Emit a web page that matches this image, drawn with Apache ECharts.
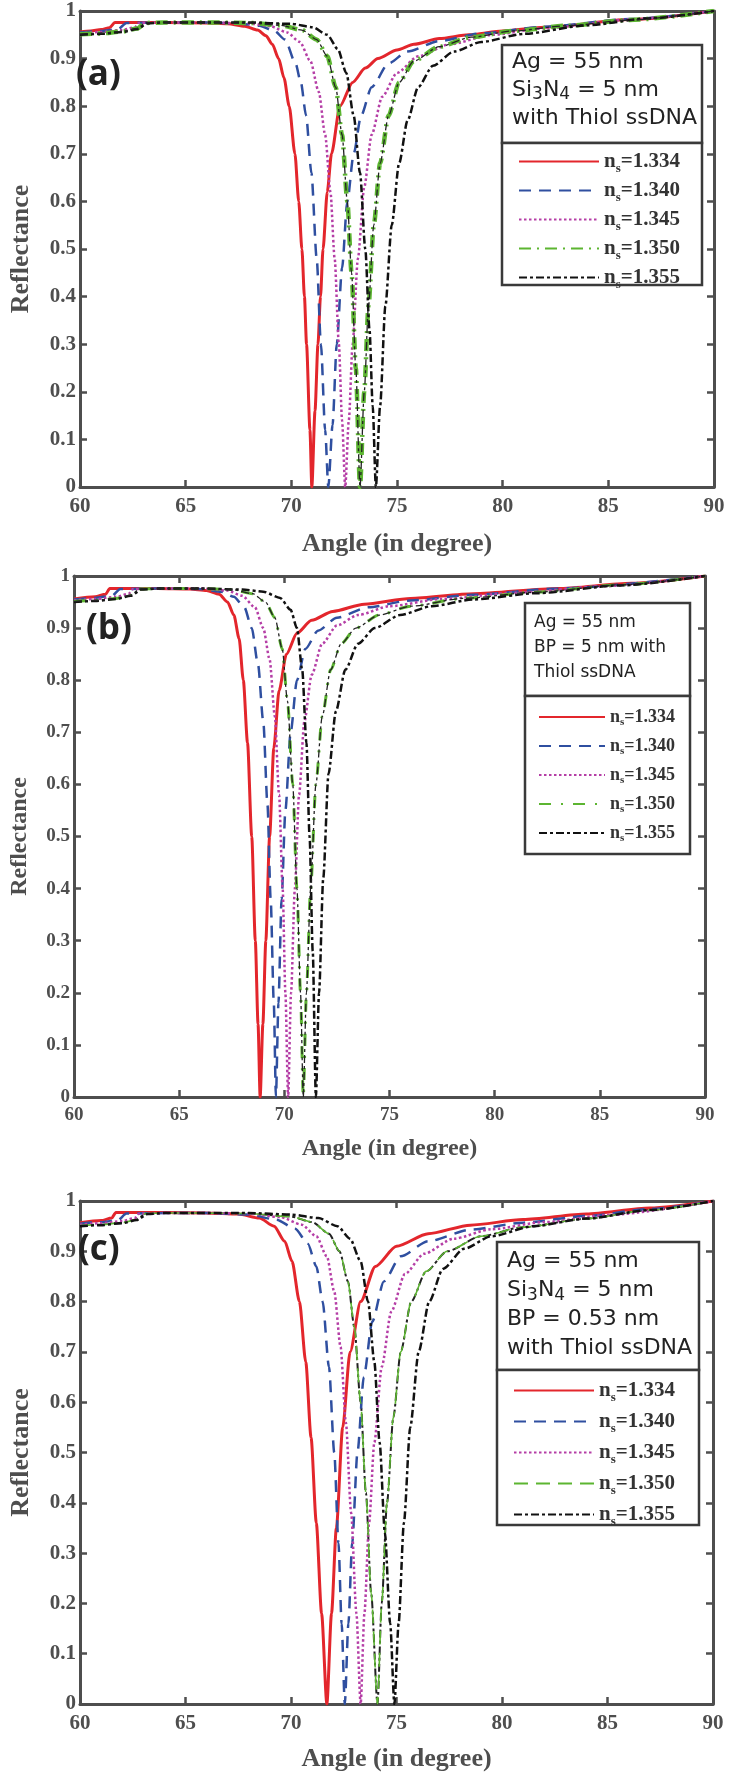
<!DOCTYPE html>
<html><head><meta charset="utf-8">
<script src="https://cdn.jsdelivr.net/npm/echarts@6/dist/echarts.min.js"></script>
<style>html,body{margin:0;padding:0;background:#fff}#c{width:736px;height:1773px}</style>
</head><body><div id="c"></div>
<script>
// ---------- data ----------
const xTicks = [60, 65, 70, 75, 80, 85, 90];
const yTicks = [0, 0.1, 0.2, 0.3, 0.4, 0.5, 0.6, 0.7, 0.8, 0.9, 1];
const nsLabels = ['1.334', '1.340', '1.345', '1.350', '1.355'];
const panelLetters = ['(a)', '(b)', '(c)'];

// Panel (a): Ag 55 nm / Si3N4 5 nm / thiol ssDNA
const a334 = [[60,0.956],[60.5,0.958],[61,0.961],[61.4,0.965],[61.65,0.976],[62,0.976],[64,0.976],[66,0.975],[67,0.973],[67.8,0.968],[68.4,0.96],[68.8,0.948],[69.1,0.93],[69.4,0.9],[69.65,0.86],[69.9,0.8],[70.17,0.7],[70.35,0.6],[70.5,0.5],[70.62,0.4],[70.72,0.3],[70.88,0.12],[70.97,0.0],[71.12,0.16],[71.26,0.3],[71.38,0.4],[71.5,0.5],[71.7,0.62],[71.9,0.7],[72.3,0.8],[72.9,0.85],[73.5,0.88],[74.1,0.9],[75,0.918],[75.8,0.93],[77,0.942],[78.4,0.95],[80,0.958],[82,0.966],[86,0.982],[90,1.0]];
const a340 = [[60,0.955],[61,0.958],[61.8,0.962],[62.2,0.975],[64,0.976],[66,0.976],[67.5,0.974],[68.5,0.969],[69.2,0.958],[69.7,0.94],[70.2,0.89],[70.45,0.85],[70.7,0.78],[70.95,0.66],[71.2,0.48],[71.4,0.3],[71.6,0.12],[71.75,0.0],[71.95,0.13],[72.15,0.3],[72.4,0.46],[72.65,0.6],[72.95,0.7],[73.3,0.78],[73.8,0.84],[74.6,0.89],[75.5,0.915],[77,0.937],[79,0.953],[82,0.967],[86,0.983],[90,1.0]];
const a345 = [[60,0.953],[61,0.956],[62,0.96],[62.6,0.966],[62.8,0.975],[64,0.976],[66,0.976],[68,0.974],[69,0.968],[69.8,0.955],[70.4,0.935],[70.9,0.895],[71.3,0.83],[71.6,0.74],[71.85,0.62],[72.05,0.48],[72.25,0.3],[72.4,0.14],[72.55,0.0],[72.72,0.14],[72.9,0.3],[73.15,0.48],[73.45,0.63],[73.8,0.74],[74.3,0.82],[75,0.87],[76,0.905],[77.5,0.93],[79.5,0.95],[82,0.964],[86,0.982],[90,1.0]];
const a350 = [[60,0.951],[61,0.953],[62,0.957],[62.7,0.963],[63.1,0.975],[64,0.976],[66,0.976],[68,0.975],[69.5,0.97],[70.5,0.96],[71.2,0.94],[71.7,0.905],[72.1,0.84],[72.4,0.74],[72.65,0.6],[72.85,0.45],[73.05,0.25],[73.25,0.0],[73.45,0.2],[73.65,0.38],[73.9,0.55],[74.2,0.68],[74.6,0.78],[75.1,0.85],[75.8,0.895],[77,0.925],[78.5,0.945],[80.5,0.958],[83,0.969],[86,0.981],[90,1.0]];
const a355 = [[60,0.95],[61,0.952],[62,0.956],[62.7,0.962],[63.2,0.974],[64,0.976],[66,0.976],[68,0.976],[70,0.973],[71,0.966],[71.7,0.95],[72.2,0.92],[72.6,0.87],[72.95,0.78],[73.25,0.66],[73.5,0.5],[73.7,0.33],[73.85,0.17],[74.0,0.0],[74.2,0.17],[74.45,0.38],[74.75,0.55],[75.1,0.68],[75.5,0.77],[76,0.84],[76.7,0.885],[77.7,0.915],[79,0.935],[81,0.952],[84,0.97],[87,0.985],[90,1.0]];

// Panel (b): Ag 55 nm / BP 5 nm / thiol ssDNA
const b334 = [[60,0.956],[61,0.96],[61.5,0.965],[61.7,0.976],[62.5,0.976],[64,0.976],[65.5,0.975],[66.3,0.972],[66.9,0.965],[67.3,0.95],[67.6,0.925],[67.85,0.88],[68.05,0.8],[68.25,0.68],[68.45,0.5],[68.62,0.3],[68.75,0.14],[68.85,0.0],[68.98,0.14],[69.12,0.3],[69.3,0.5],[69.5,0.67],[69.75,0.78],[70.1,0.85],[70.6,0.89],[71.3,0.915],[72.3,0.932],[73.8,0.946],[76,0.957],[79,0.966],[83,0.976],[86.5,0.986],[90,1.0]];
const b340 = [[60,0.955],[61,0.958],[61.8,0.962],[62.2,0.975],[64,0.976],[66,0.975],[67,0.97],[67.6,0.96],[68.1,0.94],[68.45,0.9],[68.75,0.83],[69.0,0.72],[69.2,0.56],[69.35,0.38],[69.5,0.18],[69.6,0.0],[69.72,0.18],[69.87,0.38],[70.05,0.55],[70.3,0.7],[70.6,0.8],[71.0,0.86],[71.6,0.895],[72.5,0.92],[74,0.94],[76,0.953],[79,0.964],[83,0.976],[90,1.0]];
const b345 = [[60,0.953],[61,0.956],[62,0.96],[62.6,0.966],[62.8,0.975],[64,0.976],[66,0.976],[67.3,0.972],[68,0.962],[68.6,0.94],[69.0,0.9],[69.3,0.84],[69.55,0.73],[69.75,0.58],[69.92,0.4],[70.05,0.2],[70.18,0.0],[70.32,0.2],[70.5,0.4],[70.7,0.58],[70.95,0.72],[71.3,0.81],[71.8,0.87],[72.5,0.905],[73.5,0.925],[75,0.942],[77.5,0.956],[81,0.968],[85,0.98],[90,1.0]];
const b350 = [[60,0.951],[61,0.953],[62,0.957],[62.7,0.963],[63.1,0.975],[64,0.976],[66,0.976],[67.5,0.974],[68.5,0.966],[69.1,0.95],[69.55,0.92],[69.9,0.86],[70.15,0.76],[70.4,0.6],[70.6,0.4],[70.77,0.2],[70.9,0.0],[71.05,0.2],[71.25,0.4],[71.5,0.6],[71.8,0.73],[72.2,0.82],[72.7,0.87],[73.4,0.9],[74.5,0.925],[76,0.942],[78.5,0.957],[82,0.969],[86,0.983],[90,1.0]];
const b355 = [[60,0.95],[61,0.952],[62,0.956],[62.7,0.962],[63.2,0.974],[64,0.976],[66,0.976],[68,0.974],[69,0.97],[69.8,0.958],[70.3,0.935],[70.6,0.9],[70.85,0.82],[71.05,0.68],[71.2,0.5],[71.35,0.28],[71.5,0.0],[71.65,0.2],[71.85,0.42],[72.1,0.62],[72.45,0.74],[72.9,0.82],[73.5,0.87],[74.3,0.9],[75.5,0.925],[77,0.942],[79,0.955],[82,0.967],[86,0.982],[90,1.0]];

// Panel (c): Ag 55 nm / Si3N4 5 nm / BP 0.53 nm / thiol ssDNA
const c334 = [[60,0.957],[61,0.961],[61.5,0.966],[61.7,0.977],[62.5,0.977],[64,0.977],[66,0.976],[67.5,0.974],[68.5,0.966],[69.2,0.95],[69.7,0.92],[70.05,0.88],[70.4,0.8],[70.7,0.68],[70.95,0.53],[71.2,0.36],[71.45,0.18],[71.7,0.0],[71.92,0.18],[72.15,0.35],[72.45,0.55],[72.8,0.7],[73.3,0.8],[74,0.87],[75,0.91],[76.5,0.935],[78.5,0.952],[81,0.963],[84,0.974],[87,0.986],[90,1.0]];
const c340 = [[60,0.955],[61,0.958],[61.8,0.962],[62.2,0.975],[64,0.976],[66,0.976],[68,0.973],[69.3,0.963],[70.2,0.945],[70.8,0.915],[71.2,0.87],[71.5,0.8],[71.8,0.67],[72.05,0.5],[72.25,0.32],[72.4,0.16],[72.55,0.0],[72.72,0.16],[72.9,0.32],[73.15,0.5],[73.45,0.65],[73.85,0.76],[74.4,0.84],[75.2,0.89],[76.5,0.92],[78.5,0.943],[81,0.957],[84,0.97],[87,0.984],[90,1.0]];
const c345 = [[60,0.953],[61,0.956],[62,0.96],[62.6,0.966],[62.8,0.975],[64,0.976],[66,0.976],[68,0.975],[69.5,0.968],[70.5,0.953],[71.2,0.93],[71.7,0.89],[72.05,0.82],[72.35,0.71],[72.6,0.56],[72.85,0.38],[73.1,0.18],[73.3,0.0],[73.48,0.18],[73.7,0.36],[73.95,0.52],[74.3,0.67],[74.75,0.78],[75.4,0.855],[76.3,0.895],[77.7,0.925],[79.5,0.944],[82,0.958],[85,0.972],[90,1.0]];
const c350 = [[60,0.951],[61,0.953],[62,0.957],[62.7,0.963],[63.1,0.975],[64,0.976],[66,0.976],[68,0.975],[70,0.969],[71,0.958],[71.8,0.935],[72.3,0.9],[72.7,0.84],[73.0,0.75],[73.3,0.6],[73.55,0.42],[73.8,0.22],[74.1,0.0],[74.3,0.2],[74.55,0.4],[74.85,0.57],[75.2,0.7],[75.7,0.8],[76.4,0.86],[77.4,0.9],[79,0.93],[81,0.948],[84,0.965],[87,0.982],[90,1.0]];
const c355 = [[60,0.95],[61,0.952],[62,0.956],[62.7,0.962],[63.2,0.974],[64,0.976],[66,0.976],[68,0.976],[70,0.973],[71.3,0.966],[72.2,0.95],[72.8,0.925],[73.3,0.88],[73.65,0.8],[73.95,0.68],[74.2,0.52],[74.45,0.34],[74.7,0.16],[74.9,0.0],[75.1,0.16],[75.35,0.36],[75.65,0.55],[76.05,0.7],[76.55,0.8],[77.2,0.865],[78.2,0.905],[79.5,0.93],[81.5,0.95],[84,0.965],[87,0.982],[90,1.0]];

const boxTexts = [
  'Ag = 55 nm\nSi{sub|3}N{sub|4} = 5 nm\nwith Thiol ssDNA',
  'Ag = 55 nm\nBP = 5 nm with\nThiol ssDNA',
  'Ag = 55 nm\nSi{sub|3}N{sub|4} = 5 nm\nBP = 0.53 nm\nwith Thiol ssDNA'
];

// ---------- layout ----------
const panels = [
  {grid:{left:66, top:11, width:648, height:476}, data:[a334,a340,a345,a350,a355],
   letter:{x:76, y:58}, box:{x:502,y:45,w:200,h:98}, lbox:{x:502,y:143,w:200,h:142},
   boxText:{x:512,y:48,lh:28,fs:22}, legend:{left:518, top:151, iw:80, gap:5, fs:21},
   tickFs:21, titleFs:26, xGap:44, yGap:46,
   greenW:4.5, greenDash:[12,6,2,6]},
  {grid:{left:69, top:576, width:636, height:521}, data:[b334,b340,b345,b350,b355],
   letter:{x:86, y:612}, box:{x:525,y:603,w:165,h:93}, lbox:{x:525,y:696,w:165,h:158},
   boxText:{x:534,y:610,lh:25,fs:17}, legend:{left:538, top:708, iw:66, gap:9, fs:18},
   tickFs:19, titleFs:24, xGap:40, yGap:42,
   greenW:3, greenDash:[12,10,2,10]},
  {grid:{left:63, top:1201, width:650, height:503}, data:[c334,c340,c345,c350,c355],
   letter:{x:78, y:1233}, box:{x:497,y:1242,w:202,h:128}, lbox:{x:497,y:1370,w:202,h:155},
   boxText:{x:507,y:1247,lh:29,fs:22}, legend:{left:513, top:1380, iw:80, gap:7, fs:21},
   tickFs:21, titleFs:26, xGap:42, yGap:46,
   greenW:1.6, greenDash:[14,8]}
];

const AX = '#4e4e4e';
const serif = '"Liberation Serif","Times New Roman",serif';
const sans = '"DejaVu Sans", "Liberation Sans", Arial, sans-serif';
const colors = ['#e3262c', '#2f4fa0', '#b53ea6', '#5cb531', '#111111'];

const option = {
  animation: false,
  backgroundColor: '#fff',
  grid: [], xAxis: [], yAxis: [], series: [], legend: [], graphic: []
};

panels.forEach((p, i) => {
  option.grid.push(Object.assign({containLabel:false}, p.grid));
  const common = {
    min: 60, max: 90, interval: 5, gridIndex: i,
    axisLine: {show: true, onZero: false, lineStyle: {color: AX, width: 3}},
    axisTick: {show: true, inside: true, length: 7, lineStyle: {color: AX, width: 2.5}},
    splitLine: {show: false}
  };
  option.xAxis.push(Object.assign({}, common, {
    type: 'value', position: 'bottom',
    name: 'Angle (in degree)', nameLocation: 'middle', nameGap: p.xGap,
    nameTextStyle: {fontFamily: serif, fontWeight: 'bold', fontSize: p.titleFs, color: AX},
    axisLabel: {show: true, margin: 9, fontFamily: serif, fontWeight: 'bold', fontSize: p.tickFs, color: AX,
      formatter: v => xTicks.includes(v) ? String(v) : ''}
  }));
  option.xAxis.push(Object.assign({}, common, {type: 'value', position: 'top', axisLabel: {show: false}}));
  const ycommon = Object.assign({}, common, {min: 0, max: 1, interval: 0.1});
  option.yAxis.push(Object.assign({}, ycommon, {
    type: 'value', position: 'left',
    name: 'Reflectance', nameLocation: 'middle', nameGap: p.yGap, nameRotate: 90,
    nameTextStyle: {fontFamily: serif, fontWeight: 'bold', fontSize: p.titleFs, color: AX},
    axisLabel: {show: true, margin: 4, fontFamily: serif, fontWeight: 'bold', fontSize: p.tickFs, color: AX,
      formatter: v => {
        const t = yTicks.find(k => Math.abs(k - v) < 1e-6);
        if (t === undefined) return '';
        return (t === 0 || t === 1) ? String(t) : t.toFixed(1);
      }}
  }));
  option.yAxis.push(Object.assign({}, ycommon, {type: 'value', position: 'right', axisLabel: {show: false}}));

  const styles = [
    {color: colors[0], width: 3, type: 'solid'},
    {color: colors[1], width: 2.5, type: [12, 8]},
    {color: colors[2], width: 2.5, type: [2.5, 2.5]},
    {color: colors[3], width: p.greenW, type: p.greenDash},
    {color: colors[4], width: 2.5, type: [8, 3, 3, 3]}
  ];
  const names = nsLabels.map(n => panelLetters[i] + n);
  // dark dash-dot trace running along the green curve (as visible in the reference)
  const under = i === 2;
  if (under) {
    option.series.push({type:'line', name:'_t'+i, data: p.data[3], xAxisIndex: 2*i, yAxisIndex: 2*i,
      showSymbol:false, symbol:'none', smooth:0.25, smoothMonotone:'x', z: 2,
      lineStyle:{color:'#222', width:2, type:[8,3,3,3]}, silent:true});
  }
  p.data.forEach((d, k) => {
    option.series.push({
      type: 'line', name: names[k], data: d, xAxisIndex: 2*i, yAxisIndex: 2*i,
      symbol: 'none', showSymbol: false, smooth: 0.25, smoothMonotone: 'x', z: 2 + k*0.1,
      lineStyle: styles[k], itemStyle: {color: styles[k].color}
    });
  });
  if (!under) {
    option.series.push({type:'line', name:'_t'+i, data: p.data[3], xAxisIndex: 2*i, yAxisIndex: 2*i,
      showSymbol:false, symbol:'none', smooth:0.25, smoothMonotone:'x', z: 2.6,
      lineStyle:{color:'#222', width:1.3, type:[8,3,3,3]}, silent:true});
  }

  const fs = p.legend.fs;
  option.legend.push({
    data: names, orient: 'vertical', left: p.legend.left, top: p.legend.top,
    padding: 0, itemWidth: p.legend.iw, itemHeight: 14, itemGap: p.legend.gap,
    selectedMode: false, z: 10,
    itemStyle: {color: 'transparent', borderWidth: 0, opacity: 0},
    textStyle: {
      rich: {
        n: {fontFamily: serif, fontWeight: 'bold', fontSize: fs, color: '#333', verticalAlign: 'top', lineHeight: fs},
        s: {fontFamily: serif, fontWeight: 'bold', fontSize: Math.round(fs*0.62), color: '#333', verticalAlign: 'top', lineHeight: 12, padding: [Math.round(fs*0.5), 0, 0, 0]},
        v: {fontFamily: serif, fontWeight: 'bold', fontSize: fs, color: '#333', verticalAlign: 'top', lineHeight: fs}
      }
    },
    formatter: nm => '{n|n}{s|s}{v|=' + nm.slice(3) + '}'
  });

  option.graphic.push(
    {type:'rect', z: 5, shape:{x:p.box.x, y:p.box.y, width:p.box.w, height:p.box.h},
     style:{fill:'#fff', stroke:'#3a3a3a', lineWidth:2.5}},
    {type:'rect', z: 5, shape:{x:p.lbox.x, y:p.lbox.y, width:p.lbox.w, height:p.lbox.h},
     style:{fill:'#fff', stroke:'#3a3a3a', lineWidth:2.5}},
    {type:'text', z: 6, left: p.boxText.x, top: p.boxText.y,
     style:{text: boxTexts[i], fill:'#222', font: p.boxText.fs + 'px ' + sans,
       lineHeight: p.boxText.lh,
       rich:{sub:{fontSize: Math.round(p.boxText.fs*0.75), fontFamily: sans, fill:'#222', padding:[Math.round(p.boxText.fs*0.45),0,0,0]}}}},
    {type:'text', z: 6, left: p.letter.x, top: p.letter.y,
     style:{text: panelLetters[i], fill:'#222', font:'bold 35px "Open Sans", "Noto Sans", sans-serif'}}
  );
});

const chart = echarts.init(document.getElementById('c'), null, {renderer: 'canvas'});
chart.setOption(option);
</script></body></html>
